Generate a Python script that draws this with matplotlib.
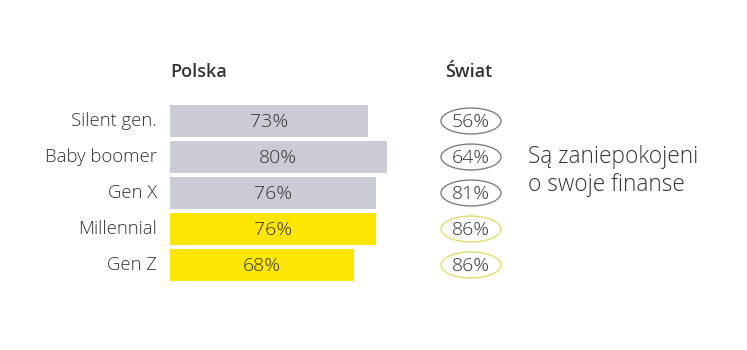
import matplotlib.pyplot as plt
from matplotlib.patches import Ellipse

plt.rcParams['font.family'] = ['Open Sans', 'DejaVu Sans']

generations = ['Silent gen.', 'Baby boomer', 'Gen X', 'Millennial', 'Gen Z']
polska = [73, 80, 76, 76, 68]
swiat = [56, 64, 81, 86, 86]
highlight = [False, False, False, True, True]

W, H = 747, 350
GREY = '#cbcbd5'
YELLOW = '#ffe600'
TEXT = '#333333'

fig = plt.figure(figsize=(W / 100, H / 100), dpi=100)

# bars: rows span y 103..283 px, zero at x=170, 2.71 px per percent
top, bottom = 103, 283
ax = fig.add_axes([170 / W, (H - bottom) / H, 271 / W, (bottom - top) / H])
ys = list(range(len(generations)))
colors = [YELLOW if h else GREY for h in highlight]
ax.barh(ys, polska, height=0.89, color=colors)
ax.set_xlim(0, 100)
ax.set_ylim(len(generations) - 0.5, -0.5)
ax.axis('off')
for y, v, name in zip(ys, polska, generations):
    ax.text(v / 2, y + 0.02, f'{v}%', ha='center', va='center', fontsize=14,
            color=TEXT, fontweight='light')
    ax.text(-4.8, y, name, ha='right', va='center', fontsize=13.3, color=TEXT,
            fontweight='light')

# world values in ellipses
ax2 = fig.add_axes([430 / W, (H - bottom) / H, 82 / W, (bottom - top) / H])
ax2.set_xlim(0, 82)
ax2.set_ylim(len(generations) - 0.5, -0.5)
ax2.axis('off')
for y, v, h in zip(ys, swiat, highlight):
    edge = '#e3dc6a' if h else '#808080'
    ax2.add_patch(Ellipse((41, y), 60, 0.72, facecolor='white', edgecolor=edge, lw=1))
    ax2.text(41, y + 0.02, f'{v}%', ha='center', va='center', fontsize=14,
             color=TEXT, fontweight='light')

fig.text(170 / W, 1 - 72 / H, 'Polska', ha='left', va='center', fontsize=13,
         fontweight='semibold', color=TEXT)
fig.text(445 / W, 1 - 72 / H, 'Świat', ha='left', va='center', fontsize=13,
         fontweight='semibold', color=TEXT)
fig.text(528 / W, 1 - 171 / H, 'Są zaniepokojeni\no swoje finanse', ha='left', va='center',
         fontsize=16.3, color=TEXT, linespacing=1.2, fontweight='light')

fig.savefig('out.png', dpi=100, facecolor='white')
